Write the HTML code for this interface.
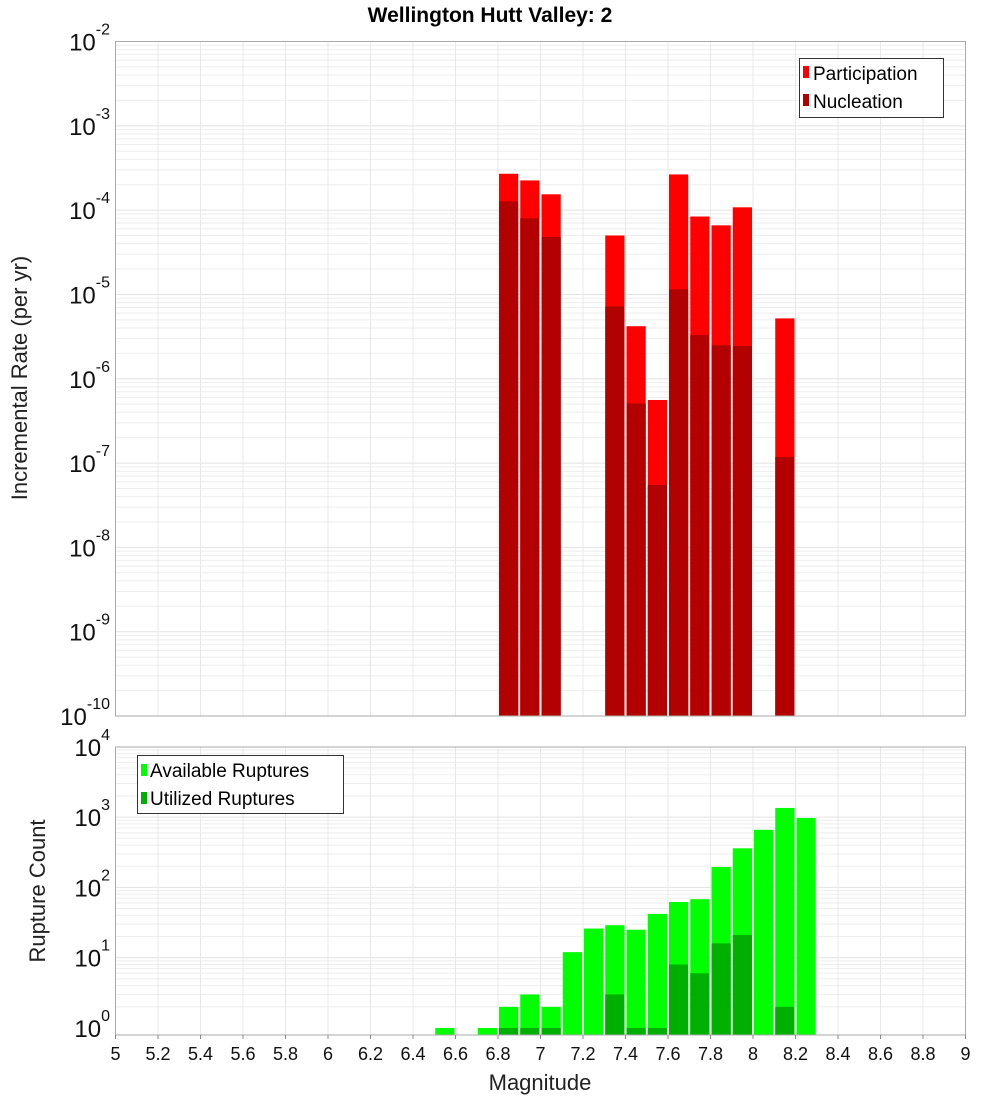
<!DOCTYPE html>
<html><head><meta charset="utf-8"><style>
body{margin:0;background:#fff;}
svg text{font-family:"Liberation Sans","DejaVu Sans",sans-serif;}
</style></head><body>
<svg id="c" width="1000" height="1100" xmlns="http://www.w3.org/2000/svg">
<text x="490" y="22" text-anchor="middle" font-size="21" font-weight="bold">Wellington Hutt Valley: 2</text>
<g id="top"></g>
<g id="bot"></g>
<text transform="translate(27,378) rotate(-90)" text-anchor="middle" font-size="22" fill="#222">Incremental Rate (per yr)</text>
<text transform="translate(45,891) rotate(-90)" text-anchor="middle" font-size="22" fill="#222">Rupture Count</text>
<text x="540" y="1090" text-anchor="middle" font-size="22" fill="#222">Magnitude</text>
<g>
<rect x="799.5" y="58.5" width="144" height="59" fill="#fff" stroke="#333"/>
<rect x="803" y="66" width="6" height="12" fill="#ff0000"/>
<text x="813" y="80" font-size="19">Participation</text>
<rect x="803" y="94" width="6" height="12" fill="#b30000"/>
<text x="813" y="108" font-size="19">Nucleation</text>
</g>
<g>
<rect x="137.5" y="755.5" width="206" height="58" fill="#fff" stroke="#333"/>
<rect x="141" y="764" width="6" height="12" fill="#00ff00"/>
<text x="150" y="777" font-size="19">Available Ruptures</text>
<rect x="141" y="792" width="6" height="12" fill="#00b000"/>
<text x="150" y="805" font-size="19">Utilized Ruptures</text>
</g>
</svg>
<script>
const mags = [6.85,6.95,7.05,7.35,7.45,7.55,7.65,7.75,7.85,7.95,8.15];
const participation = [2.7e-4,2.25e-4,1.54e-4,5.0e-5,4.2e-6,5.6e-7,2.65e-4,8.4e-5,6.6e-5,1.08e-4,5.2e-6];
const nucleation = [1.27e-4,8.0e-5,4.8e-5,7.2e-6,5.1e-7,5.5e-8,1.15e-5,3.3e-6,2.5e-6,2.45e-6,1.18e-7];
const countMags = [6.55,6.75,6.85,6.95,7.05,7.15,7.25,7.35,7.45,7.55,7.65,7.75,7.85,7.95,8.05,8.15,8.25];
const available = [1,1,2,3,2,12,26,29,25,42,62,68,195,360,660,1350,970];
const utilized = [0,0,1,1,1,0,0,3,1,1,8,6,16,21,0,2,0];
const xTicks = ["5","5.2","5.4","5.6","5.8","6","6.2","6.4","6.6","6.8","7","7.2","7.4","7.6","7.8","8","8.2","8.4","8.6","8.8","9"];
const topExps = [-2,-3,-4,-5,-6,-7,-8,-9,-10];
const botExps = [4,3,2,1,0];

const NS="http://www.w3.org/2000/svg";
const L=115.5,R=965.5;
const xs=m=>L+(m-5)/4*(R-L);
function mk(p,tag,a){const e=document.createElementNS(NS,tag);for(const k in a)e.setAttribute(k,a[k]);p.appendChild(e);return e;}
function panel(g,T,B,ys,lo,hi,name){
  mk(g,'rect',{x:L,y:T,width:R-L,height:B-T,fill:'#fff'});
  for(let d=Math.floor(lo);d<Math.ceil(hi);d++)for(let k=1;k<10;k++){
    const v=d+Math.log10(k); if(v<lo||v>hi)continue;
    const ln=mk(g,'line',{x1:L,x2:R,y1:ys(v),y2:ys(v),stroke:k==1?'#e2e2e2':'#eeeeee','stroke-width':1});
    
    
  }
  xTicks.forEach(t=>{
    const x=xs(+t);
    const ln=mk(g,'line',{x1:x,x2:x,y1:T,y2:B,stroke:'#e8e8e8','stroke-width':1});
    
    
  });
}
function frame(g,T,B){mk(g,'rect',{x:L,y:T,width:R-L,height:B-T,fill:'none',stroke:'#aaa','stroke-width':1});}
function ylab(g,y,e,name){
  const t=mk(g,'text',{x:110,y:y+9,'text-anchor':'end','font-size':24,fill:'#111'});
  
  
  const a=document.createElementNS(NS,'tspan');a.textContent='10';t.appendChild(a);
  const b=document.createElementNS(NS,'tspan');b.setAttribute('dy','-16');b.setAttribute('font-size','16');b.textContent=String(e);t.appendChild(b);
}
function bar(g,m,v,ys,B,col,name){
  if(v<=0)return;
  const x0=xs(m-0.05)+1,x1=xs(m+0.05)-1;
  const y=ys(Math.log10(v));
  const r=mk(g,'rect',{x:x0,y:y,width:x1-x0,height:B-y,fill:col});
  
  
}
// top
const tg=document.getElementById('top');
const T1=41.5,B1=716;
const ys1=v=>T1+(-2-v)/8*(B1-T1);
panel(tg,T1,B1,ys1,-10,-2);
mags.forEach((m,i)=>bar(tg,m,participation[i],ys1,B1,'#ff0000','bar-participation'));
mags.forEach((m,i)=>bar(tg,m,nucleation[i],ys1,B1,'#b30000','bar-nucleation'));
frame(tg,T1,B1);
topExps.forEach(e=>ylab(tg,ys1(e),e,'y-tick-label-rate'));
// bottom
const bg=document.getElementById('bot');
const T2=747,B2=1035,Z=1028,D=70.3;
const ys2=v=>Z-v*D;
panel(bg,T2,B2,ys2,(Z-B2)/-D,4);
countMags.forEach((m,i)=>bar(bg,m,available[i],ys2,B2,'#00ff00','bar-available'));
countMags.forEach((m,i)=>bar(bg,m,utilized[i],ys2,B2,'#00b000','bar-utilized'));
frame(bg,T2,B2);
botExps.forEach(e=>ylab(bg,ys2(e),e,'y-tick-label-count'));
xTicks.forEach(t=>{
  const x=xs(+t);
  mk(bg,'line',{x1:x,x2:x,y1:B2,y2:B2+4,stroke:'#888'});
  const tx=mk(bg,'text',{x:x,y:1060,'text-anchor':'middle','font-size':18,fill:'#111'});
  
  
  tx.textContent=t;
});
</script>
</body></html>
